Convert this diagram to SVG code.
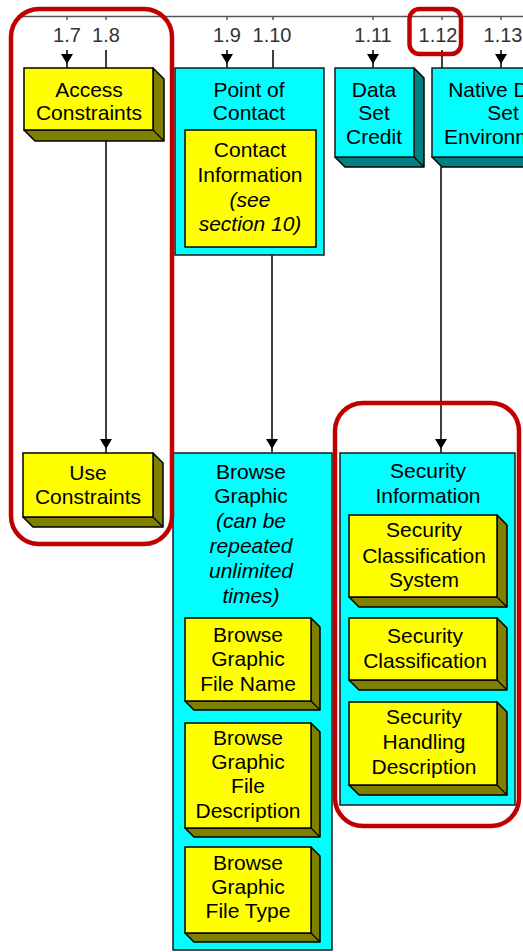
<svg xmlns="http://www.w3.org/2000/svg" width="523" height="952" viewBox="0 0 523 952">
  <style>
    .t { font-family: "Liberation Sans", Arial, sans-serif; font-size: 21px; text-anchor: middle; fill: #000; }
    .i { font-style: italic; }
    .lbl { font-family: "Liberation Sans", Arial, sans-serif; font-size: 20px; text-anchor: middle; fill: #333; }
    .yf { fill: #ffff00; stroke: #000; stroke-width: 1.5; }
    .ys { fill: #808000; stroke: #000; stroke-width: 1.5; stroke-linejoin: round; }
    .cf { fill: #00ffff; stroke: #1a1a1a; stroke-width: 1.5; }
    .cs { fill: #008080; stroke: #000; stroke-width: 1.5; stroke-linejoin: round; }
    .edge { stroke: #000; stroke-width: 1.2; }
    .conn { stroke: #000; stroke-width: 1.5; fill: none; }
    .bar { stroke: #555; stroke-width: 1.5; fill: none; }
    .hl { fill: none; stroke: #c00000; stroke-width: 4.5; }
  </style>
  <defs>
    <marker id="arr" viewBox="0 0 14 12" refX="14" refY="6" markerWidth="14" markerHeight="12" markerUnits="userSpaceOnUse" orient="auto">
      <path d="M0,0 L10,6 L0,12 Z" fill="#000"/>
    </marker>
  </defs>
  <rect width="523" height="952" fill="#fff"/>

  <g id="header">
    <line class="bar" x1="20" y1="16.5" x2="523" y2="16.5"/>
    <path class="bar" d="M67,16 V20 M106,16 V20 M227,16 V20 M273,16 V20 M373,16 V20 M442,16 V20 M501,16 V20"/>
    <text class="lbl" x="67" y="42">1.7</text>
    <text class="lbl" x="106" y="42">1.8</text>
    <text class="lbl" x="227" y="42">1.9</text>
    <text class="lbl" x="272" y="42">1.10</text>
    <text class="lbl" x="373" y="42">1.11</text>
    <text class="lbl" x="438" y="42">1.12</text>
    <text class="lbl" x="503" y="42">1.13</text>
  </g>

  <g id="connectors">
    <line class="conn" x1="67" y1="50" x2="67" y2="68" marker-end="url(#arr)"/>
    <line class="conn" x1="106" y1="50" x2="106" y2="68"/>
    <line class="conn" x1="106" y1="141" x2="106" y2="453" marker-end="url(#arr)"/>
    <line class="conn" x1="227" y1="50" x2="227" y2="68" marker-end="url(#arr)"/>
    <line class="conn" x1="273" y1="50" x2="273" y2="68"/>
    <line class="conn" x1="272" y1="255" x2="272" y2="453" marker-end="url(#arr)"/>
    <line class="conn" x1="373" y1="50" x2="373" y2="68" marker-end="url(#arr)"/>
    <line class="conn" x1="442" y1="50" x2="442" y2="68"/>
    <line class="conn" x1="441" y1="167" x2="441" y2="453" marker-end="url(#arr)"/>
    <line class="conn" x1="501" y1="50" x2="501" y2="68" marker-end="url(#arr)"/>
  </g>

  <g id="access-constraints">
    <polygon class="ys" points="24,130 153,130 153,68 164,79 164,141 35,141"/>
    <line class="edge" x1="153" y1="130" x2="164" y2="141"/>
    <rect class="yf" x="24" y="68" width="129" height="62"/>
    <text class="t" x="89" y="97">Access</text>
    <text class="t" x="89" y="120">Constraints</text>
  </g>

  <g id="use-constraints">
    <polygon class="ys" points="23,517 153,517 153,453 163,463 163,527 33,527"/>
    <line class="edge" x1="153" y1="517" x2="163" y2="527"/>
    <rect class="yf" x="23" y="453" width="130" height="64"/>
    <text class="t" x="88" y="480">Use</text>
    <text class="t" x="88" y="504">Constraints</text>
  </g>

  <g id="point-of-contact">
    <rect class="cf" x="175" y="68" width="149" height="187"/>
    <text class="t" x="249" y="97">Point of</text>
    <text class="t" x="249" y="120">Contact</text>
  </g>

  <g id="contact-information">
    <rect class="yf" x="185" y="130" width="131" height="117"/>
    <text class="t" x="250" y="157">Contact</text>
    <text class="t" x="250" y="182">Information</text>
    <text class="t i" x="250" y="207">(see</text>
    <text class="t i" x="250" y="231">section 10)</text>
  </g>

  <g id="data-set-credit">
    <polygon class="cs" points="335,157 414,157 414,68 424,78 424,167 345,167"/>
    <line class="edge" x1="414" y1="157" x2="424" y2="167"/>
    <rect class="cf" x="335" y="68" width="79" height="89"/>
    <text class="t" x="374" y="97">Data</text>
    <text class="t" x="374" y="120">Set</text>
    <text class="t" x="374" y="144">Credit</text>
  </g>

  <g id="native-data-set-environment">
    <polygon class="cs" points="432,157 574,157 574,68 584,78 584,167 442,167"/>
    <rect class="cf" x="432" y="68" width="142" height="89"/>
    <text class="t" x="503" y="97">Native Data</text>
    <text class="t" x="503" y="120">Set</text>
    <text class="t" x="503" y="144">Environment</text>
  </g>

  <g id="browse-graphic">
    <rect class="cf" x="173" y="453" width="159" height="497"/>
    <text class="t" x="251" y="479">Browse</text>
    <text class="t" x="251" y="503">Graphic</text>
    <text class="t i" x="251" y="528">(can be</text>
    <text class="t i" x="251" y="553">repeated</text>
    <text class="t i" x="251" y="578">unlimited</text>
    <text class="t i" x="251" y="603">times)</text>
  </g>

  <g id="browse-graphic-file-name">
    <polygon class="ys" points="185,701 311,701 311,618 320,627 320,710 194,710"/>
    <line class="edge" x1="311" y1="701" x2="320" y2="710"/>
    <rect class="yf" x="185" y="618" width="126" height="83"/>
    <text class="t" x="248" y="642">Browse</text>
    <text class="t" x="248" y="666">Graphic</text>
    <text class="t" x="248" y="691">File Name</text>
  </g>

  <g id="browse-graphic-file-description">
    <polygon class="ys" points="185,828 311,828 311,723 320,732 320,837 194,837"/>
    <line class="edge" x1="311" y1="828" x2="320" y2="837"/>
    <rect class="yf" x="185" y="723" width="126" height="105"/>
    <text class="t" x="248" y="745">Browse</text>
    <text class="t" x="248" y="769">Graphic</text>
    <text class="t" x="248" y="793">File</text>
    <text class="t" x="248" y="818">Description</text>
  </g>

  <g id="browse-graphic-file-type">
    <polygon class="ys" points="185,933 311,933 311,847 320,856 320,942 194,942"/>
    <line class="edge" x1="311" y1="933" x2="320" y2="942"/>
    <rect class="yf" x="185" y="847" width="126" height="86"/>
    <text class="t" x="248" y="870">Browse</text>
    <text class="t" x="248" y="894">Graphic</text>
    <text class="t" x="248" y="918">File Type</text>
  </g>

  <g id="security-information">
    <rect class="cf" x="340" y="453" width="175" height="352"/>
    <text class="t" x="428" y="478">Security</text>
    <text class="t" x="428" y="503">Information</text>
  </g>

  <g id="security-classification-system">
    <polygon class="ys" points="349,597 497,597 497,515 507,525 507,607 359,607"/>
    <line class="edge" x1="497" y1="597" x2="507" y2="607"/>
    <rect class="yf" x="349" y="515" width="148" height="82"/>
    <text class="t" x="424" y="537">Security</text>
    <text class="t" x="424" y="563">Classification</text>
    <text class="t" x="424" y="587">System</text>
  </g>

  <g id="security-classification">
    <polygon class="ys" points="349,680 497,680 497,618 507,628 507,690 359,690"/>
    <line class="edge" x1="497" y1="680" x2="507" y2="690"/>
    <rect class="yf" x="349" y="618" width="148" height="62"/>
    <text class="t" x="425" y="643">Security</text>
    <text class="t" x="425" y="668">Classification</text>
  </g>

  <g id="security-handling-description">
    <polygon class="ys" points="349,785 497,785 497,702 507,712 507,795 359,795"/>
    <line class="edge" x1="497" y1="785" x2="507" y2="795"/>
    <rect class="yf" x="349" y="702" width="148" height="83"/>
    <text class="t" x="424" y="724">Security</text>
    <text class="t" x="424" y="749">Handling</text>
    <text class="t" x="424" y="774">Description</text>
  </g>

  <g id="highlights">
    <rect class="hl" x="11" y="9" width="161" height="535" rx="28"/>
    <rect class="hl" x="409.5" y="9" width="51.5" height="45" rx="10"/>
    <rect class="hl" x="335" y="403" width="184" height="423" rx="28"/>
  </g>
</svg>
